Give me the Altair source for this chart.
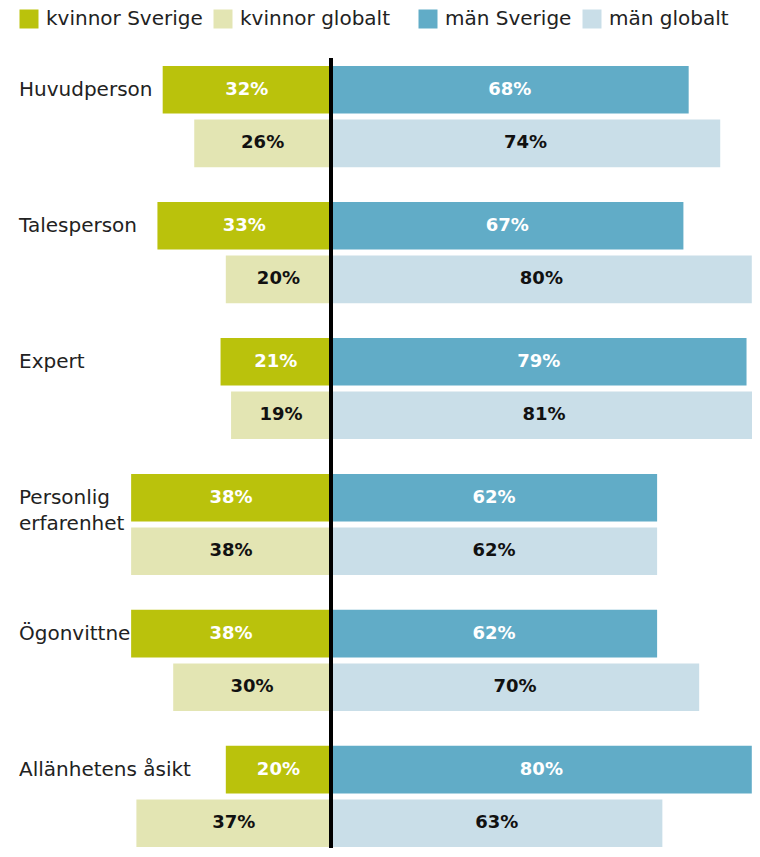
import altair as alt
import pandas as pd

categories = ["Huvudperson", "Talesperson", "Expert", "Personlig erfarenhet", "Ögonvittne", "Allänhetens åsikt"]
label_line1 = ["Huvudperson", "Talesperson", "Expert", "Personlig", "Ögonvittne", "Allänhetens åsikt"]
label_line2 = ["", "", "", "erfarenhet", "", ""]
women_sverige = [32, 33, 21, 38, 38, 20]
women_global = [26, 20, 19, 38, 30, 37]
men_sverige = [68, 67, 79, 62, 62, 80]
men_global = [74, 80, 81, 62, 70, 63]
scopes = ["Sverige", "globalt"]
women_series = ["kvinnor Sverige", "kvinnor globalt"]
men_series = ["män Sverige", "män globalt"]
women_colors = ["#bac20c", "#e3e5b3"]
men_colors = ["#61acc7", "#c9dee8"]

FONT = "DejaVu Sans"

rows = []
for i, c in enumerate(categories):
    for scope, w, m in [("Sverige", women_sverige[i], men_sverige[i]),
                        ("globalt", women_global[i], men_global[i])]:
        tcol = "white" if scope == "Sverige" else "#111111"
        rows.append(dict(category=c, scope=scope, sex="kvinnor", series=f"kvinnor {scope}",
                         value=w, start=-w, end=0, mid=-w / 2, label=f"{w}%", tcolor=tcol))
        rows.append(dict(category=c, scope=scope, sex="män", series=f"män {scope}",
                         value=m, start=0, end=m, mid=m / 2, label=f"{m}%", tcolor=tcol))
df = pd.DataFrame(rows)

lab = pd.DataFrame({"category": categories, "scope": "Sverige",
                    "line1": label_line1, "line2": label_line2})

xscale = alt.Scale(domain=[-61.41, 80.04], nice=False, zero=False)
yenc = alt.Y("category:N", sort=categories,
             scale=alt.Scale(domain=categories, range=[58, 839], paddingInner=0.256, paddingOuter=0),
             axis=None)
yoff = alt.YOffset("scope:N", sort=scopes,
                   scale=alt.Scale(domain=scopes, paddingInner=0.112, paddingOuter=0))


def legend(x, pad):
    return alt.Legend(orient="none", legendX=x, legendY=1, direction="horizontal", title=None,
                      symbolType="square", symbolSize=361, symbolStrokeWidth=0, symbolOpacity=1,
                      labelFont=FONT, labelFontSize=20, labelColor="#222222", labelOffset=7,
                      labelLimit=400, columnPadding=pad, padding=0)


women = alt.Chart(df).transform_filter(alt.datum.sex == "kvinnor").mark_bar(opacity=1).encode(
    x=alt.X("start:Q", scale=xscale, axis=None), x2="end:Q", y=yenc, yOffset=yoff,
    color=alt.Color("series:N", sort=women_series,
                    scale=alt.Scale(domain=women_series, range=women_colors), legend=legend(11, 10)))

men = alt.Chart(df).transform_filter(alt.datum.sex == "män").mark_bar(opacity=1).encode(
    x=alt.X("start:Q", scale=xscale, axis=None), x2="end:Q", y=yenc, yOffset=yoff,
    color=alt.Color("series:N", sort=men_series,
                    scale=alt.Scale(domain=men_series, range=men_colors), legend=legend(410, 10)))

values = alt.Chart(df).mark_text(font=FONT, fontSize=18, fontWeight="bold", align="center",
                                 baseline="middle").encode(
    x=alt.X("mid:Q", scale=xscale, axis=None), y=yenc, yOffset=yoff, text="label:N",
    color=alt.Color("tcolor:N", scale=None))

cat1 = alt.Chart(lab).mark_text(font=FONT, fontSize=20, align="left", baseline="middle",
                                color="#222222").encode(
    x=alt.value(11), y=yenc, yOffset=yoff, text="line1:N")

cat2 = alt.Chart(lab).transform_filter(alt.datum.line2 != "").mark_text(
    font=FONT, fontSize=20, align="left", baseline="middle", color="#222222", dy=26).encode(
    x=alt.value(11), y=yenc, yOffset=yoff, text="line2:N")

center = alt.Chart(df).mark_rule(color="black", strokeWidth=2.5).encode(
    x=alt.datum(0, scale=xscale), y=alt.value(50), y2=alt.value(850))

chart = alt.layer(women, men, values, cat1, cat2, center).resolve_scale(
    color="independent"
).properties(
    width=744, height=840, autosize=alt.AutoSizeParams(type="none"), padding=0,
    background="white"
).configure_view(stroke=None)

chart.save("out.html", embed_options={"renderer": "svg", "actions": False})
